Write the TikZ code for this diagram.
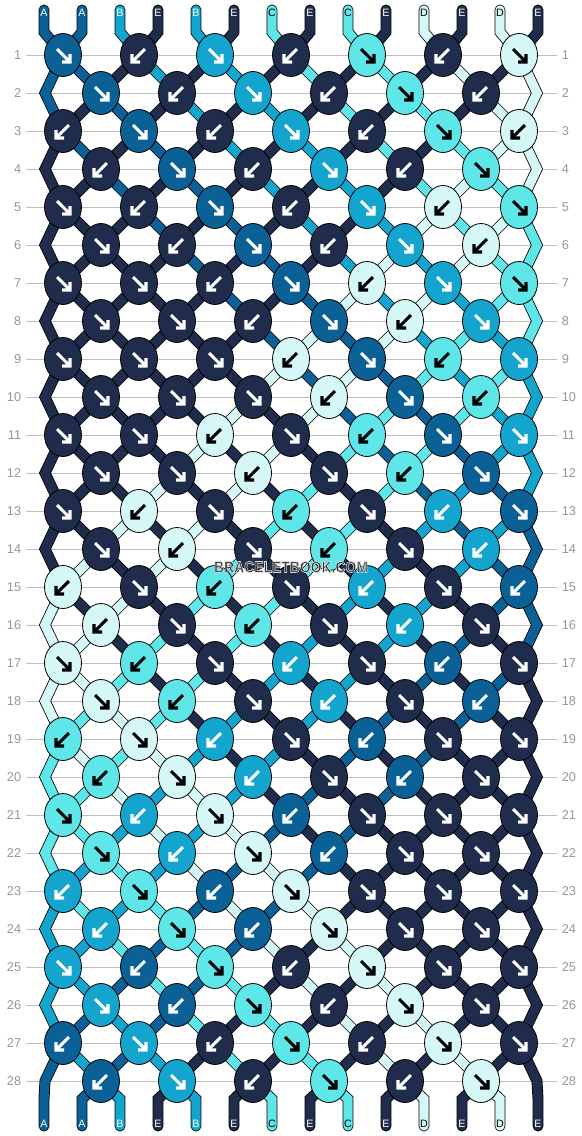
\documentclass[tikz,border=0pt]{standalone}
\usepackage{fontspec}
\setmainfont{Liberation Sans}
\usepackage{tikz}
\usetikzlibrary{shapes.geometric}

\definecolor{cA}{RGB}{11,97,150}
\definecolor{cB}{RGB}{20,165,206}
\definecolor{cC}{RGB}{94,230,232}
\definecolor{cD}{RGB}{213,248,246}
\definecolor{cE}{RGB}{31,44,75}
\definecolor{rowgray}{RGB}{150,150,150}
\definecolor{linegray}{RGB}{190,190,190}
\definecolor{markgray}{RGB}{50,50,50}

% colours along the unfolded strand ring (every second step)
\def\ringcol{{"cA","cB","cB","cC","cC","cD","cD","cE","cE","cE","cE","cE","cE","cA"}}
\def\ringarr{{"white","white","white","black","black","black","black","white","white","white","white","white","white","white"}}
% colours and letters of the strings by start position
\def\poscol{{"cA","cA","cB","cE","cB","cE","cC","cE","cC","cE","cD","cE","cD","cE"}}
\def\labcol{{"white","white","white","white","white","white","black","white","black","white","black","white","black","white"}}
\def\toplab{{"A","A","B","E","B","E","C","E","C","E","D","E","D","E"}}
% light outline round the watermark letters
\newcommand\haloed[1]{\special{pdf:literal direct 0.85 0.85 0.85 RG 0.5 w 2 Tr}#1\special{pdf:literal direct 0 Tr}}

\begin{document}
\begin{tikzpicture}[x=0.75pt,y=0.75pt,yscale=-1,xscale=1,
  declare function={pp(\u)=(\u<14)*\u+(\u>13)*(27-\u);},
  strand/.style={draw=black,line width=0.6pt,double=#1,double distance=7pt,line cap=round},
  knot/.style={ellipse,draw=black,line width=0.6pt,fill=#1,minimum width=27.75pt,minimum height=32.25pt,inner sep=0pt},
  knotarrow/.style={draw=#1,line width=2.3pt},
  rowlab/.style={text=rowgray,font=\fontsize{9.6}{10}\selectfont,inner sep=0pt},
  gridline/.style={draw=linegray,line width=0.75pt},
  stringlab/.style={text=#1,font=\fontsize{8}{9}\selectfont,inner sep=0pt}]
\useasboundingbox (0,0) rectangle (582,1136);

% Row numbers and guide lines
\foreach \k in {1,...,28}{
  \node[rowlab,anchor=east] (ll-\k) at (21.5,{55+38*(\k-1)}) {\k};
  \node[rowlab,anchor=west] (rl-\k) at (561.5,{55+38*(\k-1)}) {\k};
  \draw[gridline,shorten <=3.5pt,shorten >=3.5pt] (ll-\k.east) -- (rl-\k.west);
}

% Knot places (and edge turns on even rows)
\foreach \k in {1,...,28}{
  \pgfmathsetmacro\y{55+38*(\k-1)}
  \ifodd\k
    \foreach \q in {0,2,...,12} {\coordinate (n-\k-\q) at ({63+38*\q},\y);}
  \else
    \foreach \q in {1,3,...,11} {\coordinate (n-\k-\q) at ({63+38*\q},\y);}
    \coordinate (n-\k-0) at (45,\y);
    \coordinate (n-\k-13) at (537,\y);
  \fi
}

% String ends
\foreach \p in {0,...,13}{
  \coordinate (t-\p) at ({44+38*\p},10);
  \coordinate (tb-\p) at ({44+38*\p},32);
  \coordinate (bb-\p) at ({44+38*\p},1099);
  \coordinate (b-\p) at ({44+38*\p},1126);
}

% Strands
\foreach \p in {0,...,13}{
  \pgfmathtruncatemacro\uo{ifthenelse(mod(\p,2)==0,\p,27-\p)}
  \pgfmathsetmacro\sc{\poscol[\p]}
  \draw[strand=\sc] (t-\p) -- (tb-\p)
    \foreach \k [evaluate=\k as \q using {int(min(pp(mod(\uo+\k-1,28)),pp(mod(\uo+\k,28))))}] in {1,...,28} { -- (n-\k-\q) }
    -- (bb-\p) -- (b-\p);
}

% String letters
\foreach \p in {0,...,13}{
  \pgfmathsetmacro\lt{\toplab[\p]}
  \pgfmathsetmacro\lc{\labcol[\p]}
  \node[stringlab=\lc] (top-\p) at ({44+38*\p},13) {\lt};
  \node[stringlab=\lc] (bot-\p) at ({44+38*\p},1124) {\lt};
}

% Knots: 1 = forward, 0 = backward
\foreach \dirs [count=\k] in {{1,0,1,0,1,0,1},{1,0,1,0,1,0},{0,1,0,1,0,1,0},{0,1,0,1,0,1},
  {1,0,1,0,1,0,1},{1,0,1,0,1,0},{1,1,0,1,0,1,1},{1,1,0,1,0,1},
  {1,1,1,0,1,0,1},{1,1,1,0,1,0},{1,1,0,1,0,1,1},{1,1,0,1,0,1},
  {1,0,1,0,1,0,1},{1,0,1,0,1,0},{0,1,0,1,0,1,0},{0,1,0,1,0,1},
  {1,0,1,0,1,0,1},{1,0,1,0,1,0},{0,1,0,1,0,1,1},{0,1,0,1,0,1},
  {1,0,1,0,1,1,1},{1,0,1,0,1,1},{0,1,0,1,1,1,1},{0,1,0,1,1,1},
  {1,0,1,0,1,1,1},{1,0,1,0,1,1},{0,1,0,1,0,1,1},{0,1,0,1,0,1}}{
  \foreach \d [count=\j from 0] in \dirs {
    \pgfmathtruncatemacro\q{2*\j+1-mod(\k,2)}
    \pgfmathtruncatemacro\ci{(\d*mod(\q-\k+57,28)+(1-\d)*mod(83-\q-\k,28))/2}
    \pgfmathsetmacro\kc{\ringcol[\ci]}
    \pgfmathsetmacro\ac{\ringarr[\ci]}
    \pgfmathtruncatemacro\sg{2*\d-1}
    \node[knot=\kc] (kn-\k-\q) at (n-\k-\q) {};
    \draw[knotarrow=\ac] (kn-\k-\q.center) ++({-6*\sg},-6) -- ++({13*\sg},13) ++({-8*\sg},0) -- ++({8*\sg},0) -- ++(0,-8);
  }
}

% Text Node
\node[font=\bfseries\fontsize{12}{14}\selectfont,text=markgray] (wm) at (291,567) {\scalebox{0.87}[1]{\haloed{BRACELETBOOK.COM}}};

\end{tikzpicture}
\end{document}
